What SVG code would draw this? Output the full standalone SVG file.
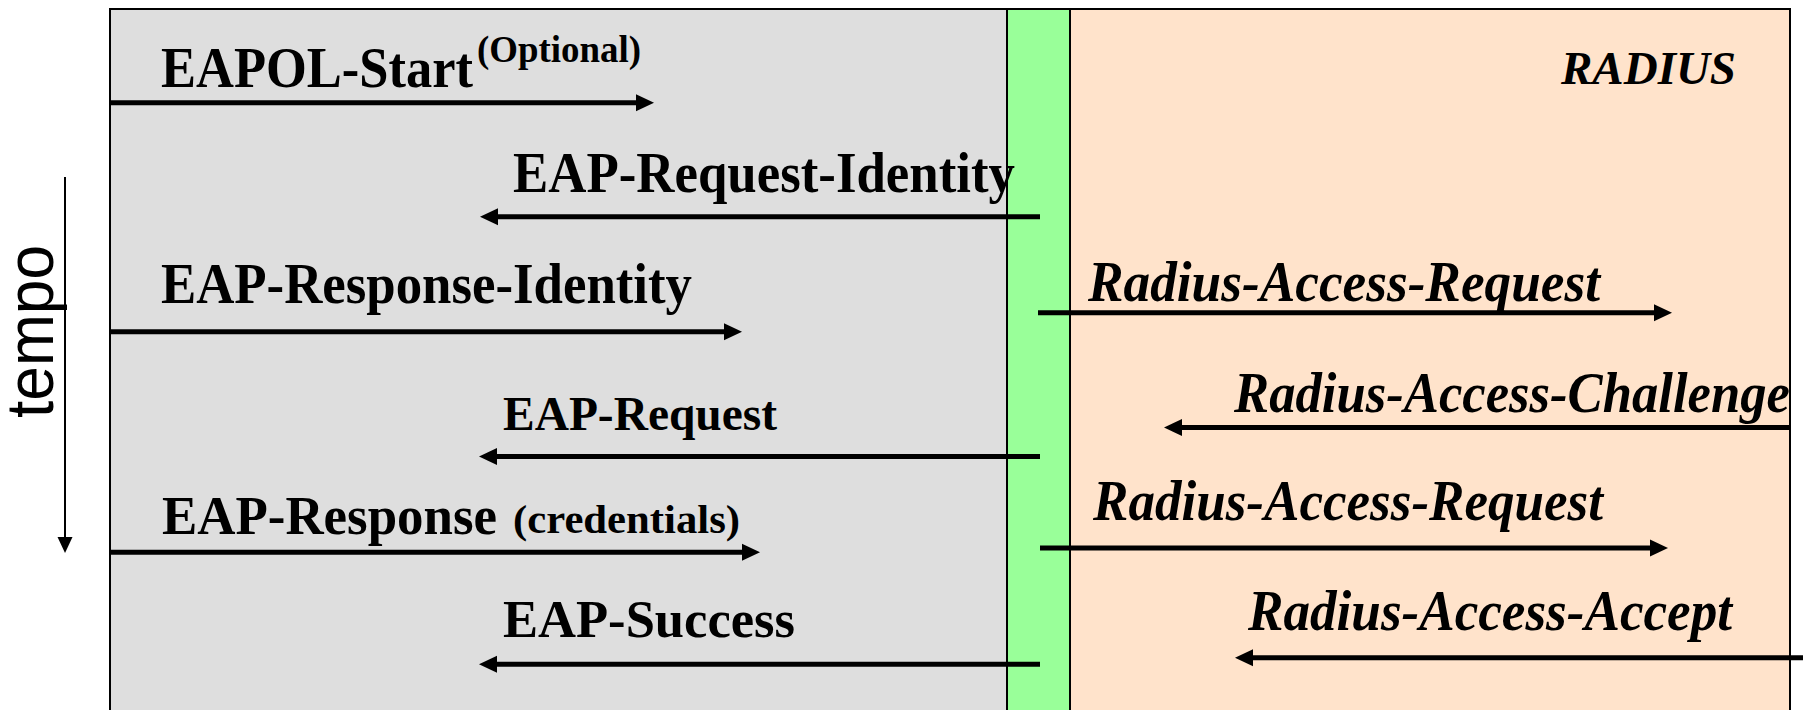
<svg xmlns="http://www.w3.org/2000/svg" width="1806" height="710" viewBox="0 0 1806 710">
<style>
.lbl{font-family:"Liberation Serif","Times New Roman",serif;font-weight:bold;fill:#000}
.it{font-style:italic}
.msg{stroke:#000;stroke-width:5;fill:none}
.frame{stroke:#000;stroke-width:2}
</style>
<defs>
<marker id="ah" markerUnits="userSpaceOnUse" markerWidth="18" markerHeight="18" refX="6" refY="8.5" orient="auto" viewBox="0 0 18 17">
<path d="M0,0 L18,8.5 L0,17 Z" fill="#000"/>
</marker>
<marker id="ahs" markerUnits="userSpaceOnUse" markerWidth="16" markerHeight="16" refX="4" refY="7.5" orient="auto" viewBox="0 0 16 15">
<path d="M0,0 L16,7.5 L0,15 Z" fill="#000"/>
</marker>
</defs>
<rect width="1806" height="710" fill="#fff"/>
<g id="supplicant-zone">
<rect x="110" y="9" width="897" height="710" fill="#dedede" class="frame"/>
</g>
<g id="authenticator-zone">
<rect x="1007" y="9" width="63" height="710" fill="#99ff99" class="frame"/>
</g>
<g id="radius-zone">
<rect x="1070" y="9" width="720" height="710" fill="#ffe3cb" class="frame"/>
<text class="lbl it" x="1561" y="84" font-size="47" textLength="175" lengthAdjust="spacingAndGlyphs">RADIUS</text>
</g>
<g id="time-axis">
<line x1="65" y1="177" x2="65" y2="541" stroke="#000" stroke-width="2" marker-end="url(#ahs)"/>
<text transform="translate(53,418) rotate(-90)" font-family="'Liberation Sans',Arial,sans-serif" font-size="66" textLength="173" lengthAdjust="spacingAndGlyphs" fill="#000">tempo</text>
</g>
<g id="labels">
<text class="lbl" x="161" y="87" font-size="57" textLength="312" lengthAdjust="spacingAndGlyphs">EAPOL-Start</text>
<text class="lbl" x="477" y="62" font-size="38" textLength="164" lengthAdjust="spacingAndGlyphs">(Optional)</text>
<text class="lbl" x="513" y="192" font-size="56" textLength="502" lengthAdjust="spacingAndGlyphs">EAP-Request-Identity</text>
<text class="lbl" x="161" y="303" font-size="56" textLength="531" lengthAdjust="spacingAndGlyphs">EAP-Response-Identity</text>
<text class="lbl" x="503" y="430" font-size="48" textLength="274" lengthAdjust="spacingAndGlyphs">EAP-Request</text>
<text class="lbl" x="162" y="534" font-size="54" textLength="335" lengthAdjust="spacingAndGlyphs">EAP-Response</text>
<text class="lbl" x="513" y="533" font-size="41" textLength="227" lengthAdjust="spacingAndGlyphs">(credentials)</text>
<text class="lbl" x="503" y="637" font-size="53" textLength="292" lengthAdjust="spacingAndGlyphs">EAP-Success</text>
<text class="lbl it" x="1088" y="301" font-size="56" textLength="512" lengthAdjust="spacingAndGlyphs">Radius-Access-Request</text>
<text class="lbl it" x="1234" y="412" font-size="56" textLength="556" lengthAdjust="spacingAndGlyphs">Radius-Access-Challenge</text>
<text class="lbl it" x="1093" y="520" font-size="56" textLength="510" lengthAdjust="spacingAndGlyphs">Radius-Access-Request</text>
<text class="lbl it" x="1248" y="630" font-size="56" textLength="484" lengthAdjust="spacingAndGlyphs">Radius-Access-Accept</text>
</g>
<g id="connectors">
<line class="msg" x1="110" y1="102.7" x2="642" y2="102.7" marker-end="url(#ah)"/>
<line class="msg" x1="1040" y1="216.7" x2="492" y2="216.7" marker-end="url(#ah)"/>
<line class="msg" x1="110" y1="331.7" x2="730" y2="331.7" marker-end="url(#ah)"/>
<line class="msg" x1="1040" y1="456.5" x2="491" y2="456.5" marker-end="url(#ah)"/>
<line class="msg" x1="110" y1="552.3" x2="748" y2="552.3" marker-end="url(#ah)"/>
<line class="msg" x1="1040" y1="664.3" x2="491" y2="664.3" marker-end="url(#ah)"/>
<line class="msg" x1="1038" y1="312.7" x2="1660" y2="312.7" marker-end="url(#ah)"/>
<line class="msg" x1="1790" y1="427.5" x2="1176" y2="427.5" marker-end="url(#ah)"/>
<line class="msg" x1="1040" y1="548" x2="1656" y2="548" marker-end="url(#ah)"/>
<line class="msg" x1="1803" y1="657.7" x2="1247" y2="657.7" marker-end="url(#ah)"/>
</g>
</svg>
